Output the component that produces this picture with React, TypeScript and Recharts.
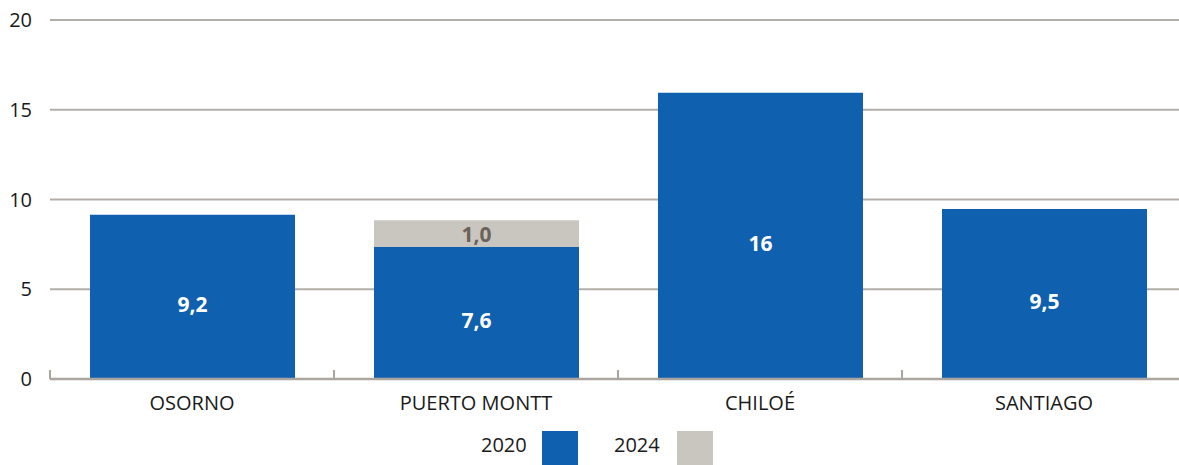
import { BarChart, Bar, XAxis, YAxis, CartesianGrid, Legend, LabelList } from 'recharts';

const categories = ['OSORNO', 'PUERTO MONTT', 'CHILOÉ', 'SANTIAGO'];
const values2020 = [9.15, 7.35, 15.95, 9.47];
const values2024 = [0, 1.5, 0, 0];
const labels2020 = ['9,2', '7,6', '16', '9,5'];
const labels2024 = ['', '1,0', '', ''];
const yTicks = [0, 5, 10, 15, 20];

const BLUE = '#1060b0';
const GREY = '#c9c6c0';
const FONT = '"Open Sans", "Noto Sans", sans-serif';

const data = categories.map((name, i) => ({
  name,
  v2020: values2020[i],
  v2024: values2024[i] || null,
  l2020: labels2020[i],
  l2024: labels2024[i],
}));

const CategoryTick = (props: any) => {
  const { x, y, payload } = props;
  return (
    <g>
      <line x1={x - 142} x2={x - 142} y1={y - 9} y2={y} stroke="#aaa69f" strokeWidth={2} />
      <text x={x} y={y + 31} textAnchor="middle" fontSize={20} fontFamily={FONT} fill="#1a1a1a">
        {payload.value}
      </text>
    </g>
  );
};

const makeLabel = (color: string, dy: number) => (props: any) => {
  const { x, y, width, height, value } = props;
  if (!value) return null;
  return (
    <text
      x={x + width / 2}
      y={y + height / 2 + dy}
      textAnchor="middle"
      dominantBaseline="central"
      fontSize={21}
      fontWeight="bold"
      fontFamily={FONT}
      fill={color}
    >
      {value}
    </text>
  );
};

const LegendBox = () => (
  <div style={{ position: 'relative', height: 46, fontFamily: FONT, fontSize: 20, color: '#1a1a1a' }}>
    <span style={{ position: 'absolute', left: 481, top: 14, lineHeight: '24px' }}>2020</span>
    <span style={{ position: 'absolute', left: 542, top: 12, width: 36, height: 40, background: BLUE }} />
    <span style={{ position: 'absolute', left: 614, top: 14, lineHeight: '24px' }}>2024</span>
    <span style={{ position: 'absolute', left: 677, top: 12, width: 36, height: 40, background: GREY }} />
  </div>
);

export default function App() {
  return (
    <div style={{ position: 'absolute', left: 0, top: 0, width: 1179, height: 465, overflow: 'hidden', background: '#fff' }}>
      <BarChart
        width={1186}
        height={465}
        data={data}
        margin={{ top: 20, right: 0, left: 0, bottom: 0 }}
        barSize={205}
      >
        <CartesianGrid vertical={false} stroke="#b3aea7" strokeWidth={2} />
        <XAxis
          dataKey="name"
          height={40}
          tickSize={0}
          tickMargin={0}
          axisLine={{ stroke: '#aaa69f', strokeWidth: 2.5 }}
          tickLine={false}
          tick={<CategoryTick />}
          interval={0}
        />
        <YAxis
          width={50}
          domain={[0, 20]}
          ticks={yTicks}
          axisLine={false}
          tickLine={false}
          tickMargin={12}
          tick={{ fontSize: 20, fontFamily: FONT, fill: '#1a1a1a' }}
        />
        <Legend verticalAlign="bottom" height={46} content={<LegendBox />} />
        <Bar dataKey="v2020" stackId="a" fill={BLUE} isAnimationActive={false}>
          <LabelList dataKey="l2020" content={makeLabel('#ffffff', 7)} />
        </Bar>
        <Bar dataKey="v2024" stackId="a" fill={GREY} isAnimationActive={false}>
          <LabelList dataKey="l2024" content={makeLabel('#6b6259', 0)} />
        </Bar>
      </BarChart>
    </div>
  );
}
